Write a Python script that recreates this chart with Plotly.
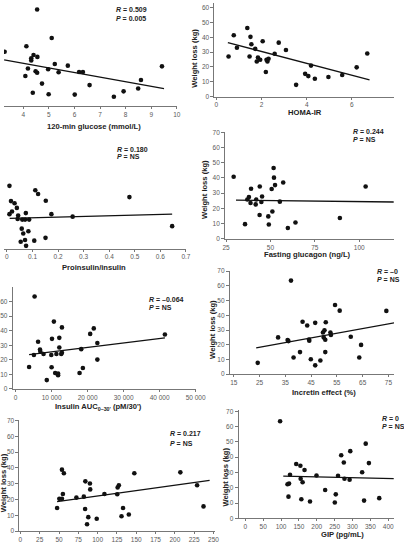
import plotly.graph_objects as go

W, H = 404, 543

# ---------------- data (weight loss in kg) ----------------
glucose_x = [4.54, 5.11, 4.12, 3.27, 4.40, 4.55, 4.31, 4.31, 5.23, 5.74, 9.42, 4.18, 4.97, 4.48,
             4.54, 5.38, 6.18, 6.33, 4.08, 4.73, 8.60, 6.59, 8.49, 4.37, 4.99, 6.01, 7.92, 7.54]
glucose_wl = [66.2, 46.7, 41.1, 37.3, 35.1, 33.8, 32.9, 31.3, 28.9, 27.8, 27.3, 25.8, 25.3, 24.0,
              22.9, 23.3, 23.5, 23.5, 20.7, 15.5, 18.0, 14.5, 12.2, 9.3, 8.2, 8.0, 10.2, 6.5]
glucose_fit_x = [3.25, 9.50]
glucose_fit_wl = [31.8, 12.0]

homa_x = [0.54, 0.77, 0.91, 1.37, 1.51, 1.55, 1.47, 1.72, 1.84, 1.79, 1.94, 2.05, 2.22, 2.31,
          2.26, 2.19, 2.58, 2.76, 3.08, 3.53, 3.93, 4.07, 4.19, 4.36, 4.96, 5.57, 6.21, 6.68]
homa_wl = [27.0, 41.4, 32.9, 46.3, 40.3, 35.3, 27.0, 32.2, 26.3, 23.7, 24.8, 37.3, 24.8, 25.5,
           23.7, 16.6, 28.9, 36.4, 31.4, 7.9, 15.3, 13.8, 20.9, 12.0, 13.2, 14.5, 19.7, 29.1]
homa_fit_x = [0.51, 6.78]
homa_fit_wl = [36.4, 11.2]

proins_x = [0.010, 0.111, 0.122, 0.152, 0.479, 0.016, 0.030, 0.039, 0.020, 0.010, 0.074, 0.174,
            0.257, 0.044, 0.042, 0.060, 0.071, 0.087, 0.058, 0.084, 0.064, 0.071, 0.054, 0.107,
            0.151, 0.075, 0.646]
proins_wl = [42.3, 39.3, 36.8, 32.2, 34.7, 32.0, 30.5, 27.4, 25.0, 23.2, 23.9, 23.2, 21.5, 22.2,
             19.9, 19.5, 19.5, 19.5, 13.4, 11.6, 10.1, 5.7, 4.6, 5.3, 7.2, 1.8, 15.1]
proins_fit_x = [0.011, 0.646]
proins_fit_wl = [20.4, 23.2]

glucagon_x = [29.3, 35.7, 39.1, 37.0, 37.9, 38.8, 42.0, 41.7, 44.0, 44.9, 45.3, 43.9, 50.7, 51.8,
              52.0, 52.6, 51.1, 48.8, 49.1, 55.3, 57.2, 64.1, 59.8, 89.1, 103.6]
glucagon_wl = [40.8, 9.6, 32.9, 25.8, 27.4, 23.5, 25.8, 22.6, 34.4, 24.2, 27.8, 15.6, 32.7, 46.6,
               40.2, 35.3, 17.9, 14.7, 9.4, 24.4, 37.0, 10.7, 7.1, 13.7, 34.4]
glucagon_fit_x = [30.6, 119.4]
glucagon_fit_wl = [25.4, 24.2]

auc_x = [5280, 10640, 12870, 6250, 10110, 12140, 20720, 21720, 22710, 41470, 6780, 6890, 5090,
         7770, 9920, 11340, 12140, 12870, 12680, 18230, 3750, 10000, 10990, 11800, 11800, 17770,
         18690, 22710, 8660]
auc_wl = [63.6, 46.3, 42.3, 32.4, 34.4, 35.1, 37.8, 41.6, 31.5, 37.4, 27.0, 25.5, 23.3, 24.0,
          23.3, 24.0, 28.4, 24.8, 24.0, 27.3, 15.0, 14.8, 10.9, 10.5, 9.4, 10.9, 14.3, 20.1, 6.0]
auc_fit_x = [3750, 41470]
auc_fit_wl = [23.5, 35.1]

incretin_x = [37.2, 54.3, 56.1, 74.2, 41.7, 43.5, 46.6, 50.7, 32.2, 35.9, 36.2, 44.2, 44.3, 49.6,
              50.2, 49.9, 50.5, 52.5, 52.7, 60.4, 64.4, 63.7, 50.5, 40.7, 38.2, 44.9, 48.6, 46.6, 24.3]
incretin_wl = [63.6, 47.0, 43.2, 43.0, 35.6, 33.1, 34.9, 35.3, 25.0, 23.2, 22.5, 23.6, 22.7, 28.3,
               29.8, 25.0, 23.4, 28.3, 26.7, 25.4, 19.9, 11.3, 15.0, 15.0, 11.3, 10.1, 9.3, 6.0, 7.7]
incretin_fit_x = [23.7, 78.0]
incretin_fit_wl = [17.9, 35.2]

p7_x = [53.8, 56.3, 147.5, 207.1, 84.1, 90.0, 90.4, 127.5, 125.9, 125.4, 55.0, 50.4, 53.8, 72.5,
        82.1, 108.8, 47.5, 83.8, 87.9, 98.8, 86.3, 132.9, 130.9, 140.4, 228.8, 237.1]
p7_wl = [38.9, 36.6, 36.6, 37.2, 31.5, 30.1, 26.4, 29.0, 27.6, 23.3, 23.5, 20.4, 20.4, 21.2,
         21.8, 23.5, 14.6, 14.0, 8.8, 7.8, 4.3, 14.6, 9.4, 10.5, 29.0, 15.6]
p7_fit_x = [47.5, 245.0]
p7_fit_wl = [18.7, 32.1]

gip_x = [97.3, 337.0, 293.8, 268.4, 275.7, 345.9, 142.4, 154.1, 165.7, 327.0, 125.1, 199.2, 259.5,
         154.9, 277.6, 291.9, 160.3, 122.4, 118.1, 223.5, 253.2, 120.8, 156.8, 181.1, 250.5,
         332.4, 374.9]
gip_wl = [63.5, 48.8, 43.9, 41.2, 36.5, 36.1, 35.5, 34.4, 31.6, 30.1, 28.5, 28.0, 27.8, 25.9,
          25.9, 25.3, 23.6, 22.7, 22.3, 18.5, 15.7, 14.2, 12.5, 11.0, 10.4, 11.6, 13.2]
gip_fit_x = [106.2, 415.4]
gip_fit_wl = [27.6, 25.9]

wl_ticks = [0, 10, 20, 30, 40, 50, 60, 70]

# ---------------- layout helpers ----------------
def fx(p):
    return p / W


def fy(p):
    return 1 - p / H


AX = dict(color="#777", lw=1)
TICKFONT = dict(family="Liberation Sans, Arial, sans-serif", size=6.5, color="#5a5a5a")

panels = [
    # x, y, fitx, fity, xdom(px), xrange, xtickvals, xticktext, ydom(px top,bottom), yrange, show_y
    (glucose_x, glucose_wl, glucose_fit_x, glucose_fit_wl, (0, 179), (3.245, 10.0),
     [4, 5, 6, 7, 8, 9, 10], None, (0, 106), (0, 70.67), False),
    (homa_x, homa_wl, homa_fit_x, homa_fit_wl, (218, 404), (-0.085, 7.863),
     [0, 2, 4, 6], None, (0, 96), (0, 63.16), True),
    (proins_x, proins_wl, proins_fit_x, proins_fit_wl, (0, 189), (-0.0113, 0.7019),
     [0, 0.1, 0.2, 0.3, 0.4, 0.5, 0.6, 0.7], ["0", "0.1", "0.2", "0.3", "0.4", "0.5", "0.6", "0.7"],
     (146, 252), (0, 69.7), False),
    (glucagon_x, glucagon_wl, glucagon_fit_x, glucagon_fit_wl, (229, 404), (24.46, 119.57),
     [25, 50, 75, 100], None, (132, 242), (0, 70.5), True),
    (auc_x, auc_wl, auc_fit_x, auc_fit_wl, (9, 198.5), (-804, 50000),
     [0, 10000, 20000, 30000, 40000, 50000], ["0", "10 000", "20 000", "30 000", "40 000", "50 000"],
     (292, 396), (0, 69.8), True),
    (incretin_x, incretin_wl, incretin_fit_x, incretin_fit_wl, (234, 404), (13.5, 77.17),
     [15, 25, 35, 45, 55, 65, 75], None, (275, 381), (0, 70.2), True),
    (p7_x, p7_wl, p7_fit_x, p7_fit_wl, (16, 219), (-1.25, 252.5),
     [0, 25, 50, 75, 100, 125, 150, 175, 200, 225, 250], None, (428, 542), (0, 70.4), True),
    (gip_x, gip_wl, gip_fit_x, gip_fit_wl, (243, 404), (-18.9, 416.2),
     [0, 50, 100, 150, 200, 250, 300, 350, 400], None, (418, 529), (0, 70.66), True),
]

fig = go.Figure()
layout = dict(
    width=W, height=H, autosize=False,
    margin=dict(l=0, r=0, t=0, b=0, pad=0),
    paper_bgcolor="white", plot_bgcolor="white",
    showlegend=False,
    font=dict(family="Liberation Sans, Arial, sans-serif", color="#222"),
)

for i, (xs, ys, fxs, fys, xdom, xr, xtv, xtt, ydom, yr, showy) in enumerate(panels, start=1):
    sx = "" if i == 1 else str(i)
    xa, ya = "x" + sx, "y" + sx
    fig.add_trace(go.Scatter(x=fxs, y=fys, mode="lines", xaxis=xa, yaxis=ya,
                             line=dict(color="#111", width=1.3), hoverinfo="skip"))
    fig.add_trace(go.Scatter(x=xs, y=ys, mode="markers", xaxis=xa, yaxis=ya,
                             marker=dict(color="#111", size=4.6, line=dict(width=0))))
    xaxis = dict(domain=[fx(xdom[0]), fx(xdom[1])], range=list(xr), anchor=ya,
                 showline=True, linecolor=AX["color"], linewidth=AX["lw"],
                 ticks="outside", ticklen=2, tickwidth=1, tickcolor=AX["color"],
                 tickvals=xtv, tickfont=TICKFONT, showgrid=False, zeroline=False)
    if xtt is not None:
        xaxis["ticktext"] = xtt
    yaxis = dict(domain=[fy(ydom[1]), fy(ydom[0])], range=list(yr), anchor=xa,
                 showgrid=False, zeroline=False)
    if showy:
        yaxis.update(showline=True, linecolor=AX["color"], linewidth=AX["lw"],
                     ticks="outside", ticklen=3, tickwidth=1, tickcolor=AX["color"],
                     tickvals=wl_ticks, tickfont=TICKFONT)
    else:
        yaxis.update(visible=False)
    layout["xaxis" + sx] = xaxis
    layout["yaxis" + sx] = yaxis

fig.update_layout(**layout)

TITLE_FONT = dict(family="Liberation Sans, Arial, sans-serif", size=7.6, color="#222")
titles = [
    ("120-min glucose (mmol/L)", 93, 127, 0),
    ("HOMA-IR", 312, 112, 0),
    ("Weight loss (kg)", 197, 57, -90),
    ("Proinsulin/insulin", 93, 272, 0),
    ("Fasting glucagon (ng/L)", 314, 258, 0),
    ("Weight loss (kg)", 207, 191, -90),
    ("Insulin AUC<sub>0–30'</sub> (pM/30')", 98, 415, 0),
    ("Incretin effect (%)", 332, 400, 0),
    ("Weight loss (kg)", 216, 335, -90),
    ("Weight loss (kg)", -1, 493, -90),
    ("Weight loss (kg)", 229, 487, -90),
    ("GIP (pg/mL)", 351, 546, 0),
]
for text, xp, yp, ang in titles:
    fig.add_annotation(text="<b>" + text + "</b>", x=fx(xp), y=fy(yp), xref="paper", yref="paper",
                       xanchor="center", yanchor="middle", textangle=ang, showarrow=False,
                       font=TITLE_FONT)

STAT_FONT = dict(family="Liberation Sans, Arial, sans-serif", size=7, color="#222")
stats = [
    ("<i>R</i> = 0.509", 114, 7), ("<i>P</i> = 0.005", 114, 16),
    ("<i>R</i> = 0.180", 115, 150), ("<i>P</i> = NS", 115, 158),
    ("<i>R</i> = 0.244", 359, 132), ("<i>P</i> = NS", 359, 140),
    ("<i>R</i> = –0.064", 148, 304), ("<i>P</i> = NS", 148, 313),
    ("<i>R</i> = –0", 384, 276), ("<i>P</i> = NS", 384, 284),
    ("<i>R</i> = 0", 389, 426), ("<i>P</i> = NS", 389, 435),
    ("<i>R</i> = 0.217", 170, 442), ("<i>P</i> = NS", 170, 452),
]
for text, xp, yp in stats:
    fig.add_annotation(text="<b>" + text + "</b>", x=fx(xp), y=fy(yp), xref="paper", yref="paper",
                       xanchor="left", yanchor="middle", showarrow=False, font=STAT_FONT)

fig.write_html("out.html")
